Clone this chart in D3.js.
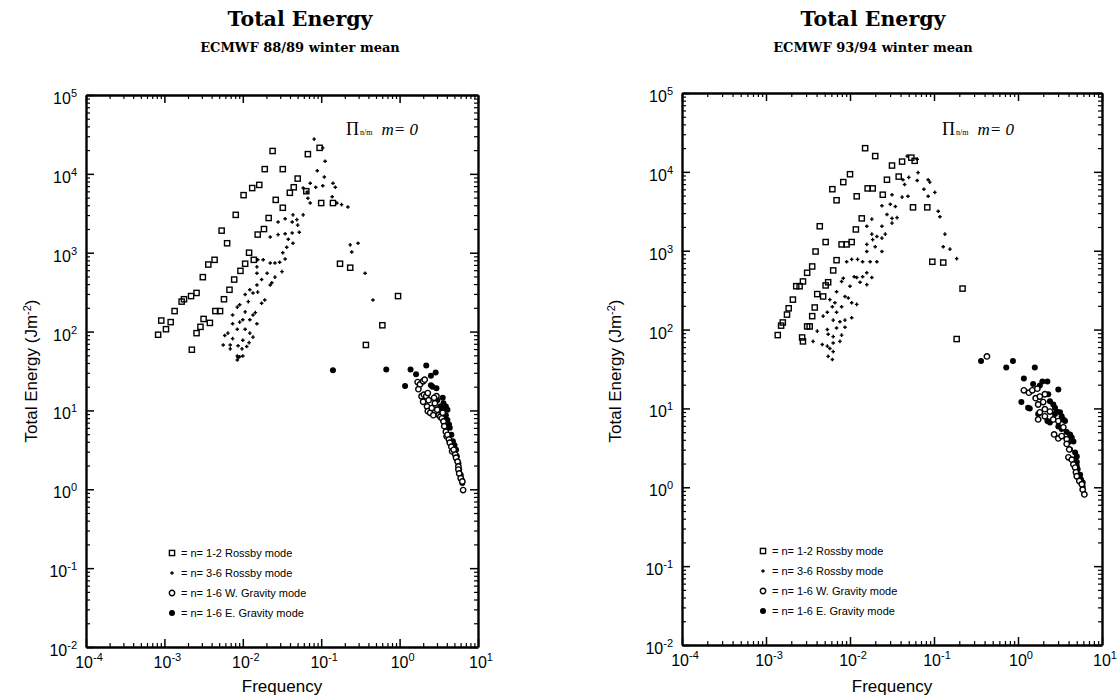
<!DOCTYPE html>
<html>
<head>
<meta charset="utf-8">
<script src="https://cdn.jsdelivr.net/npm/d3@7"></script>
<style>
body { margin: 0; background: #fff; }
</style>
</head>
<body>
<script>
const width = 1119
const height = 698

// tick exponents (labels are 10^e)
const freqExps = [-4, -3, -2, -1, 0, 1]
const energyExps = [-2, -1, 0, 1, 2, 3, 4, 5]

const legendLabels = ['= n= 1-2 Rossby mode', '= n= 3-6 Rossby mode', '= n= 1-6 W. Gravity mode', '= n= 1-6 E. Gravity mode']
const markerTypes = ['square', 'plus', 'open', 'filled']

// points are [log10 frequency, log10 energy]

// ECMWF 88/89
const rossby12_8889 = [[-1.62,4.29],[-1.17,4.25],[-1.02,4.33],[-1.72,4.06],[-1.49,4.06],[-1.79,3.86],[-1.88,3.82],[-1.99,3.73],[-1.30,3.94],[-1.35,3.83],[-1.40,3.76],[-1.19,3.78],[-1.58,3.67],[-1.49,3.57],[-1.00,3.63],[-0.85,3.63],[-2.09,3.48],[-1.67,3.44],[-1.73,3.30],[-1.81,3.23],[-2.27,3.28],[-2.20,3.12],[-1.92,3.00],[-1.86,2.91],[-1.97,2.86],[-2.36,2.91],[-2.44,2.85],[-2.03,2.77],[-2.11,2.66],[-2.51,2.69],[-0.76,2.86],[-0.63,2.81],[-2.59,2.49],[-2.66,2.45],[-2.75,2.41],[-2.78,2.38],[-2.17,2.53],[-2.87,2.26],[-2.24,2.41],[-2.35,2.26],[-2.29,2.26],[-3.04,2.14],[-2.92,2.12],[-2.50,2.16],[-2.42,2.11],[-2.54,2.06],[-2.98,2.03],[-3.08,1.96],[-2.59,1.98],[-2.65,1.77],[-0.02,2.45],[-0.22,2.08],[-0.43,1.83]]
const rossby36_8889 = [[-1.09,4.44],[-0.98,4.33],[-0.95,4.16],[-1.05,4.04],[-0.96,3.96],[-0.85,3.88],[-0.82,3.83],[-1.14,3.88],[-1.07,3.83],[-0.98,3.85],[-1.18,3.77],[-1.23,3.82],[-1.17,3.69],[-1.14,3.63],[-0.86,3.71],[-0.80,3.63],[-0.74,3.61],[-0.66,3.58],[-1.23,3.48],[-1.36,3.48],[-1.37,3.39],[-1.31,3.42],[-1.30,3.35],[-1.55,3.39],[-1.46,3.43],[-1.65,3.20],[-1.55,3.23],[-1.46,3.24],[-1.37,3.25],[-1.28,3.26],[-1.42,3.17],[-1.36,3.12],[-1.44,3.07],[-1.49,3.00],[-1.46,2.92],[-1.53,2.88],[-1.59,2.87],[-1.74,2.91],[-1.81,2.91],[-0.63,3.10],[-0.53,3.12],[-0.61,3.01],[-0.44,2.74],[-1.69,2.74],[-1.50,2.76],[-1.82,2.74],[-1.59,2.69],[-1.65,2.87],[-1.82,2.82],[-1.76,2.66],[-1.63,2.62],[-1.65,2.59],[-1.82,2.59],[-1.91,2.53],[-1.81,2.50],[-1.97,2.47],[-1.87,2.49],[-1.72,2.40],[-1.76,2.36],[-1.93,2.38],[-2.04,2.34],[-2.07,2.31],[-1.97,2.25],[-1.84,2.24],[-1.87,2.21],[-2.13,2.21],[-2.00,2.15],[-2.04,2.12],[-1.91,2.15],[-1.82,2.10],[-2.13,2.10],[-2.07,2.03],[-1.97,2.03],[-1.91,1.98],[-2.19,1.98],[-2.23,1.95],[-1.87,1.93],[-2.00,1.89],[-2.13,1.91],[-2.25,1.83],[-2.16,1.83],[-2.06,1.82],[-1.92,1.86],[-1.95,1.81],[-2.01,1.78],[-2.16,1.78],[-2.07,1.69],[-2.06,1.67],[-2.04,1.68],[-2.00,1.69],[-2.07,1.64],[-0.34,2.40]]
const wGravity_8889 = [[0.23,1.36],[0.26,1.33],[0.30,1.37],[0.32,1.39],[0.24,1.27],[0.28,1.18],[0.31,1.20],[0.30,1.11],[0.34,1.18],[0.36,1.22],[0.37,1.13],[0.35,1.05],[0.36,0.99],[0.39,0.97],[0.41,1.03],[0.43,0.94],[0.45,1.09],[0.47,1.18],[0.44,1.16],[0.48,1.01],[0.50,0.94],[0.52,0.92],[0.54,0.90],[0.55,0.97],[0.56,0.86],[0.57,0.80],[0.59,0.73],[0.60,0.67],[0.61,0.69],[0.63,0.63],[0.64,0.59],[0.66,0.54],[0.67,0.48],[0.69,0.50],[0.71,0.44],[0.72,0.40],[0.74,0.35],[0.75,0.29],[0.75,0.25],[0.76,0.20],[0.78,0.14],[0.80,0.10],[0.81,-0.01]]
const eGravity_8889 = [[-0.85,1.51],[-0.17,1.52],[0.14,1.52],[0.07,1.31],[0.21,1.46],[0.34,1.57],[0.40,1.44],[0.46,1.48],[0.40,1.32],[0.42,1.30],[0.47,1.28],[0.55,1.16],[0.56,1.09],[0.58,1.03],[0.59,0.94],[0.61,0.88],[0.63,0.82],[0.64,0.78],[0.66,0.69],[0.68,0.61],[0.70,0.56],[0.72,0.50],[0.73,0.42],[0.75,0.33],[0.76,0.25],[0.78,0.18],[0.79,0.12],[0.80,0.08],[0.56,1.01],[0.53,0.99],[0.61,1.01],[0.59,1.05],[0.52,1.05],[0.48,1.13]]

// ECMWF 93/94
const rossby12_9394 = [[-1.82,4.30],[-1.70,4.20],[-1.50,4.08],[-1.38,4.13],[-1.27,4.18],[-1.23,4.14],[-2.00,3.97],[-2.08,3.87],[-2.21,3.78],[-2.16,3.64],[-1.92,3.69],[-1.79,3.79],[-1.73,3.79],[-1.56,3.90],[-1.42,3.94],[-1.61,3.71],[-1.25,3.55],[-1.08,3.55],[-1.86,3.41],[-1.93,3.27],[-2.36,3.31],[-2.29,3.11],[-2.41,2.99],[-2.10,3.08],[-2.04,3.08],[-1.98,3.11],[-2.16,2.88],[-2.45,2.80],[-2.51,2.72],[-2.20,2.75],[-1.02,2.86],[-0.89,2.85],[-2.56,2.61],[-2.64,2.55],[-2.60,2.55],[-2.68,2.38],[-2.73,2.27],[-2.75,2.19],[-2.80,2.09],[-2.82,2.05],[-2.86,1.93],[-2.26,2.60],[-2.29,2.56],[-2.39,2.45],[-2.32,2.42],[-2.42,2.28],[-2.45,2.17],[-2.51,2.04],[-2.48,2.04],[-2.57,1.90],[-2.56,1.85],[-0.66,2.52],[-0.73,1.88]]
const rossby36_9394 = [[-1.32,4.20],[-1.20,4.16],[-1.19,3.99],[-1.30,3.93],[-1.35,3.84],[-1.37,3.90],[-1.20,3.89],[-1.07,3.90],[-1.05,3.87],[-1.12,3.78],[-0.99,3.74],[-1.07,3.69],[-1.50,3.71],[-1.38,3.68],[-1.31,3.69],[-1.62,3.57],[-1.52,3.59],[-1.46,3.56],[-1.56,3.46],[-1.50,3.41],[-1.44,3.42],[-1.74,3.40],[-1.80,3.31],[-1.62,3.31],[-1.50,3.35],[-0.95,3.50],[-0.93,3.43],[-1.74,3.21],[-1.68,3.18],[-1.62,3.16],[-1.58,3.21],[-1.73,3.14],[-1.80,3.08],[-1.70,3.05],[-1.62,2.99],[-1.80,2.99],[-2.04,2.86],[-1.98,2.89],[-1.91,2.89],[-1.85,2.86],[-1.76,2.86],[-1.68,2.86],[-0.87,3.21],[-0.89,3.05],[-0.81,3.02],[-0.73,2.90],[-1.80,2.72],[-1.92,2.66],[-1.85,2.67],[-2.08,2.65],[-2.10,2.61],[-1.95,2.67],[-1.88,2.60],[-1.80,2.57],[-1.74,2.66],[-2.16,2.48],[-2.00,2.55],[-2.06,2.42],[-2.02,2.40],[-1.98,2.34],[-1.92,2.32],[-2.24,2.38],[-2.18,2.34],[-2.21,2.29],[-2.10,2.29],[-2.27,2.22],[-2.16,2.22],[-1.98,2.15],[-2.32,2.17],[-2.20,2.12],[-2.12,2.10],[-2.06,2.12],[-2.39,1.98],[-2.27,2.00],[-2.16,2.02],[-2.06,2.03],[-2.26,1.94],[-2.20,1.91],[-2.10,1.93],[-2.44,1.85],[-2.33,1.81],[-2.27,1.79],[-2.20,1.83],[-2.12,1.85],[-2.24,1.76],[-2.20,1.72],[-2.26,1.66],[-2.21,1.62]]
const wGravity_9394 = [[-0.37,1.66],[0.07,1.23],[0.13,1.20],[0.17,1.23],[0.23,1.25],[0.21,1.13],[0.26,1.15],[0.32,1.18],[0.24,1.05],[0.30,1.08],[0.32,0.99],[0.38,0.96],[0.26,0.95],[0.24,0.86],[0.32,0.90],[0.42,0.86],[0.48,0.84],[0.54,0.76],[0.43,0.67],[0.48,0.62],[0.52,0.65],[0.58,0.61],[0.58,0.55],[0.61,0.48],[0.60,0.38],[0.64,0.35],[0.66,0.29],[0.68,0.25],[0.69,0.19],[0.70,0.14],[0.73,0.08],[0.76,0.04],[0.77,-0.03],[0.79,-0.09]]
const eGravity_9394 = [[-0.44,1.60],[-0.14,1.52],[-0.06,1.60],[0.20,1.52],[0.07,1.38],[0.29,1.34],[0.35,1.34],[0.18,1.31],[0.04,1.08],[0.12,1.01],[0.14,1.00],[0.48,1.24],[0.36,1.18],[0.38,1.09],[0.42,1.05],[0.44,1.01],[0.46,0.96],[0.50,0.95],[0.52,0.90],[0.54,0.86],[0.56,0.84],[0.35,0.84],[0.38,0.82],[0.24,0.93],[0.58,0.70],[0.62,0.67],[0.64,0.63],[0.66,0.58],[0.68,0.44],[0.70,0.39],[0.70,0.32],[0.71,0.23],[0.74,0.16],[0.75,0.10],[0.77,0.06],[0.77,0.01],[0.26,1.29],[0.44,0.93],[0.48,0.77],[0.52,0.74],[0.60,0.57],[0.62,0.48],[0.66,0.35],[0.70,0.27]]

const panels = [
    { sub: 'ECMWF 88/89 winter mean', x0: 86, x1: 478, y0: 95, y1: 647, titleX: 300, ylabX: 37,
      legX: 172, legY: 553, noteX: 346, series: [rossby12_8889, rossby36_8889, wGravity_8889, eGravity_8889] },
    { sub: 'ECMWF 93/94 winter mean', x0: 682, x1: 1102, y0: 93, y1: 645, titleX: 873, ylabX: 621,
      legX: 763, legY: 551, noteX: 942, series: [rossby12_9394, rossby36_9394, wGravity_9394, eGravity_9394] }
]

const sans = '"Liberation Sans", Arial, Helvetica, sans-serif'
const serif = '"DejaVu Serif", serif'

const svg = d3.select('body')
    .append('svg')
    .attr('width', width)
    .attr('height', height)

function drawMarker(sel, type) {
    if (type === 'square') {
        sel.append('rect').attr('x', -2.6).attr('y', -2.6).attr('width', 5.2).attr('height', 5.2)
            .attr('fill', 'none').attr('stroke', '#000').attr('stroke-width', 1.4)
    } else if (type === 'plus') {
        sel.append('path').attr('d', 'M-1.8,0H1.8M0,-1.8V1.8')
            .attr('stroke', '#000').attr('stroke-width', 1.4)
    } else if (type === 'open') {
        sel.append('circle').attr('r', 2.7)
            .attr('fill', '#fff').attr('stroke', '#000').attr('stroke-width', 1.4)
    } else {
        sel.append('circle').attr('r', 3).attr('fill', '#000')
    }
}

function powLabel(sel, e) {
    sel.append('tspan').text('10')
    sel.append('tspan').attr('dy', -7).attr('font-size', 11).text(e)
}

const isMajor = v => Math.abs(Math.log10(v) - Math.round(Math.log10(v))) < 1e-6

panels.forEach(function(p) {
    const x = d3.scaleLog().domain([1e-4, 10]).range([p.x0, p.x1])
    const y = d3.scaleLog().domain([1e-2, 1e5]).range([p.y1, p.y0])
    const g = svg.append('g')

    const xMajor = freqExps.map(e => Math.pow(10, e))
    const yMajor = energyExps.map(e => Math.pow(10, e))
    const xMinor = x.ticks().filter(v => !isMajor(v))
    const yMinor = y.ticks().filter(v => !isMajor(v))

    // frame with inward ticks on all four sides
    const sides = [
        [d3.axisBottom(x), xMajor, xMinor, `translate(0,${p.y1})`],
        [d3.axisTop(x), xMajor, xMinor, `translate(0,${p.y0})`],
        [d3.axisLeft(y), yMajor, yMinor, `translate(${p.x0},0)`],
        [d3.axisRight(y), yMajor, yMinor, `translate(${p.x1},0)`]
    ]
    sides.forEach(function(s) {
        const minorAx = g.append('g').attr('transform', s[3])
            .call(s[0].tickValues(s[2]).tickSizeInner(-4).tickSizeOuter(0).tickFormat(''))
        minorAx.select('.domain').remove()
        minorAx.selectAll('line').attr('stroke-width', 1.2)
        const majorAx = g.append('g').attr('transform', s[3])
            .call(s[0].tickValues(s[1]).tickSizeInner(-8).tickSizeOuter(0).tickFormat(''))
        majorAx.select('.domain').attr('stroke-width', 2.4)
        majorAx.selectAll('line').attr('stroke-width', 1.5)
    })

    // tick labels
    freqExps.forEach(function(e) {
        const t = g.append('text')
            .attr('x', x(Math.pow(10, e)) + 3)
            .attr('y', p.y1 + 21)
            .attr('text-anchor', 'middle')
            .attr('font-family', sans)
            .attr('font-size', 16)
        powLabel(t, e)
    })
    energyExps.forEach(function(e) {
        const t = g.append('text')
            .attr('x', p.x0 - 9)
            .attr('y', y(Math.pow(10, e)) + 9)
            .attr('text-anchor', 'end')
            .attr('font-family', sans)
            .attr('font-size', 16)
        powLabel(t, e)
    })

    // points
    const order = [0, 1, 3, 2]
    order.forEach(function(i) {
        const pts = p.series[i].map(d => ({ f: Math.pow(10, d[0]), e: Math.pow(10, d[1]) }))
        g.append('g').selectAll('g')
            .data(pts)
            .enter()
            .append('g')
            .attr('transform', d => `translate(${x(d.f)},${y(d.e)})`)
            .each(function() { drawMarker(d3.select(this), markerTypes[i]) })
    })

    // titles
    g.append('text')
        .attr('x', p.titleX).attr('y', 26)
        .attr('text-anchor', 'middle')
        .attr('font-family', serif).attr('font-weight', 'bold').attr('font-size', 20.5)
        .text('Total Energy')
    g.append('text')
        .attr('x', p.titleX).attr('y', 52)
        .attr('text-anchor', 'middle')
        .attr('font-family', serif).attr('font-weight', 'bold').attr('font-size', 13)
        .text(p.sub)

    // axis titles
    g.append('text')
        .attr('x', (p.x0 + p.x1) / 2).attr('y', 692)
        .attr('text-anchor', 'middle')
        .attr('font-family', sans).attr('font-size', 17)
        .text('Frequency')
    const yl = g.append('text')
        .attr('transform', `translate(${p.ylabX},371) rotate(-90)`)
        .attr('text-anchor', 'middle')
        .attr('font-family', sans).attr('font-size', 17)
    yl.append('tspan').text('Total Energy (Jm')
    yl.append('tspan').attr('dy', -6).attr('font-size', 11).text('-2')
    yl.append('tspan').attr('dy', 6).text(')')

    // mode note
    const note = g.append('text')
        .attr('x', p.noteX).attr('y', 135)
        .attr('font-family', '"Liberation Serif", serif')
    note.append('tspan').attr('font-size', 18).text('Π')
    note.append('tspan').attr('font-size', 8).attr('dx', 1).text('n/m')
    note.append('tspan').attr('font-size', 17).attr('font-style', 'italic').attr('dx', 9).text('m= 0')

    // legend
    legendLabels.forEach(function(label, i) {
        const ly = p.legY + i * 20
        const m = g.append('g').attr('transform', `translate(${p.legX},${ly})`)
        drawMarker(m, markerTypes[i])
        g.append('text')
            .attr('x', p.legX + 9).attr('y', ly + 4)
            .attr('font-family', sans).attr('font-size', 11)
            .text(label)
    })
})
</script>
</body>
</html>
